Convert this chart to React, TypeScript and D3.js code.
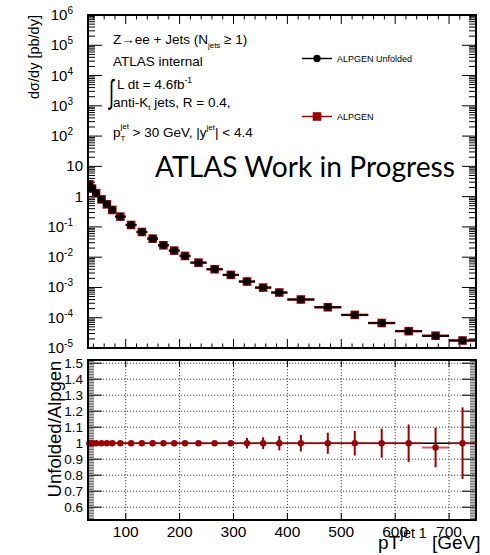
import React from "react";
import * as d3 from "d3";

// bin edges in leading jet pT [GeV]
const binEdges = [30, 35, 40, 50, 60, 70, 80, 100, 120, 140, 160, 180, 200, 220, 250, 280, 310, 340, 370, 400, 450, 500, 550, 600, 650, 700, 750];

// d sigma / dy [pb/dy]
const alpgenValues = [2.55, 1.85, 1.3, 0.81, 0.557, 0.364, 0.219, 0.116, 0.068, 0.041, 0.0247, 0.0165, 0.011, 0.0066, 0.004, 0.0026, 0.00157, 0.00099, 0.00068, 0.0004, 0.000222, 0.000124, 0.000067, 0.000036, 0.0000255, 0.0000177];
const unfoldedValues = [2.55, 1.85, 1.3, 0.81, 0.557, 0.364, 0.219, 0.116, 0.068, 0.041, 0.0247, 0.0165, 0.011, 0.0066, 0.004, 0.0026, 0.00157, 0.00099, 0.00068, 0.0004, 0.000222, 0.000124, 0.000067, 0.000036, 0.0000248, 0.0000177];

// Unfolded / Alpgen
const ratioValues = [1, 1, 1, 1, 1, 1, 1, 1, 1, 1, 1, 1, 1, 1, 1, 1, 1, 1, 1, 1, 1, 1, 1, 1, 0.973, 1];
const ratioErrors = [0.003, 0.003, 0.003, 0.003, 0.003, 0.004, 0.004, 0.005, 0.005, 0.006, 0.006, 0.007, 0.008, 0.009, 0.011, 0.015, 0.033, 0.037, 0.045, 0.052, 0.066, 0.077, 0.091, 0.117, 0.124, 0.224];

const xTicks = [100, 200, 300, 400, 500, 600, 700];
const ratioTicks = [0.6, 0.7, 0.8, 0.9, 1, 1.1, 1.2, 1.3, 1.4, 1.5];
const decades = [-5, -4, -3, -2, -1, 0, 1, 2, 3, 4, 5, 6];

const W = 490, H = 555;
const L = 88, R = 476;
const topT = 15, topB = 348;
const botT = 360, botB = 520;
const red = "#9c0000";
const font = "'Liberation Sans', Arial, sans-serif";

function decadeLabel(p: number) {
  if (p === 0) return <tspan>1</tspan>;
  if (p === 1) return <tspan>10</tspan>;
  return (
    <>
      <tspan>10</tspan>
      <tspan dy={-6} fontSize={10}>{p}</tspan>
    </>
  );
}

export default function App() {
  const x = d3.scaleLinear().domain([30, 750]).range([L, R]);
  const yTop = d3.scaleLog().domain([1e-5, 1e6]).range([topB, topT]);
  const yRat = d3.scaleLinear().domain([0.52, 1.52]).range([botB, botT]);

  const bins = alpgenValues.map((v, i) => ({
    lo: binEdges[i],
    hi: binEdges[i + 1],
    c: (binEdges[i] + binEdges[i + 1]) / 2,
    alp: v,
    unf: unfoldedValues[i],
    r: ratioValues[i],
    e: ratioErrors[i],
  }));

  const minorX = d3.range(40, 750, 20).filter(v => v % 100 !== 0);
  const logMinor: number[] = [];
  decades.slice(0, -1).forEach(p => {
    for (let k = 2; k <= 9; k++) logMinor.push(k * Math.pow(10, p));
  });
  const ratMinor = d3.range(0.52, 1.52, 0.01).map(v => +v.toFixed(2)).filter(v => Math.abs(v * 10 - Math.round(v * 10)) > 1e-6);

  return (
    <svg width={W} height={H} style={{ position: "absolute", left: 0, top: 0, background: "#fff" }} fontFamily={font}>
      <defs>
        <clipPath id="topclip"><rect x={0} y={0} width={W} height={353} /></clipPath>
        <clipPath id="topplot"><rect x={L} y={topT} width={R - L} height={topB - topT} /></clipPath>
      </defs>

      {/* ---------- top pad ---------- */}
      <g clipPath="url(#topclip)">
        {/* ticks */}
        <g stroke="#000" strokeWidth={1}>
          {decades.map(p => {
            const yy = yTop(Math.pow(10, p));
            return (
              <g key={"d" + p}>
                <line x1={L} x2={L + 14} y1={yy} y2={yy} />
                <line x1={R - 14} x2={R} y1={yy} y2={yy} />
              </g>
            );
          })}
          {logMinor.map((v, i) => {
            const yy = yTop(v);
            return (
              <g key={"m" + i}>
                <line x1={L} x2={L + 7} y1={yy} y2={yy} />
                <line x1={R - 7} x2={R} y1={yy} y2={yy} />
              </g>
            );
          })}
          {xTicks.map(v => (
            <g key={"xt" + v}>
              <line x1={x(v)} x2={x(v)} y1={topB} y2={topB - 9} />
              <line x1={x(v)} x2={x(v)} y1={topT} y2={topT + 9} />
            </g>
          ))}
          {minorX.map(v => (
            <g key={"xm" + v}>
              <line x1={x(v)} x2={x(v)} y1={topB} y2={topB - 4.5} />
              <line x1={x(v)} x2={x(v)} y1={topT} y2={topT + 4.5} />
            </g>
          ))}
        </g>

        {/* y tick labels */}
        <g fontSize={15} textAnchor="end">
          {decades.map(p => (
            <text key={"yl" + p} x={p === 0 || p === 1 ? 83 : 73} y={yTop(Math.pow(10, p)) + 5}>
              {decadeLabel(p)}
            </text>
          ))}
        </g>

        {/* data */}
        <g clipPath="url(#topplot)">
          {bins.map((b, i) => (
            <g key={"a" + i}>
              <line x1={x(b.lo)} x2={x(b.hi)} y1={yTop(b.alp)} y2={yTop(b.alp)} stroke={red} strokeWidth={2.4} />
              <rect x={x(b.c) - 4.3} y={yTop(b.alp) - 4.3} width={8.6} height={8.6} fill={red} />
            </g>
          ))}
          {bins.map((b, i) => (
            <g key={"u" + i}>
              <line x1={x(b.lo)} x2={x(b.hi)} y1={yTop(b.unf)} y2={yTop(b.unf)} stroke="#1a0000" strokeWidth={1.8} />
              <circle cx={x(b.c)} cy={yTop(b.unf)} r={3.7} fill="#000" />
            </g>
          ))}
        </g>

        <rect x={L} y={topT} width={R - L} height={topB - topT} fill="none" stroke="#000" strokeWidth={2} />
      </g>

      {/* y title */}
      <text transform="translate(39,57) rotate(-90)" textAnchor="middle" fontSize={14.5}>dσ/dy [pb/dy]</text>

      {/* annotations */}
      <g fontSize={13.5}>
        <text x={113} y={44}>
          Z→ee + Jets (N<tspan dy={4} fontSize={8}>jets</tspan><tspan dy={-4}> ≥ 1)</tspan>
        </text>
        <text x={113} y={66}>ATLAS internal</text>
        <text x={109} y={102} fontSize={30} fontWeight={300} transform="translate(109,95) scale(0.6,1.1) translate(-109,-95)">∫</text>
        <text x={117} y={89}>
          L dt = 4.6fb<tspan dy={-6} fontSize={8.5}>-1</tspan>
        </text>
        <text x={113} y={107}>
          anti-K<tspan dy={3} fontSize={8}>t</tspan><tspan dy={-3}> jets, R = 0.4,</tspan>
        </text>
        <text x={113} y={137}>
          p<tspan dy={4} fontSize={8}>T</tspan><tspan dy={-12} dx={-5} fontSize={8}>jet</tspan><tspan dy={8}> &gt; 30 GeV, |y</tspan><tspan dy={-7} fontSize={8}>jet</tspan><tspan dy={7}>| &lt; 4.4</tspan>
        </text>
      </g>

      <text x={155} y={177} fontSize={29} fontFamily="Lato, 'Open Sans', sans-serif" textLength={300} lengthAdjust="spacingAndGlyphs">ATLAS Work in Progress</text>

      {/* legend */}
      <g fontSize={9}>
        <line x1={302} x2={332} y1={58.5} y2={58.5} stroke="#000" strokeWidth={1.5} />
        <circle cx={317} cy={58.5} r={3.7} fill="#000" />
        <text x={337} y={61.5}>ALPGEN Unfolded</text>
        <line x1={302} x2={332} y1={116.5} y2={116.5} stroke={red} strokeWidth={1.5} />
        <rect x={317 - 4.3} y={116.5 - 4.3} width={8.6} height={8.6} fill={red} />
        <text x={337} y={119.5}>ALPGEN</text>
      </g>

      {/* ---------- ratio pad ---------- */}
      <g>
        {/* grid */}
        <g stroke="#444" strokeWidth={1} strokeDasharray="1.2,1.8">
          {xTicks.map(v => (
            <line key={"gx" + v} x1={x(v)} x2={x(v)} y1={botT} y2={botB} />
          ))}
          {ratioTicks.map(v => (
            <line key={"gy" + v} x1={L} x2={R} y1={yRat(v)} y2={yRat(v)} />
          ))}
        </g>

        {/* ticks */}
        <g stroke="#000" strokeWidth={1}>
          {ratioTicks.map(v => (
            <g key={"rt" + v}>
              <line x1={L} x2={L + 14} y1={yRat(v)} y2={yRat(v)} />
              <line x1={R - 14} x2={R} y1={yRat(v)} y2={yRat(v)} />
            </g>
          ))}
          {ratMinor.map(v => (
            <g key={"rm" + v}>
              <line x1={L} x2={L + 6} y1={yRat(v)} y2={yRat(v)} stroke="#666" />
              <line x1={R - 6} x2={R} y1={yRat(v)} y2={yRat(v)} stroke="#666" />
            </g>
          ))}
          {xTicks.map(v => (
            <g key={"rx" + v}>
              <line x1={x(v)} x2={x(v)} y1={botB} y2={botB - 7} />
              <line x1={x(v)} x2={x(v)} y1={botT} y2={botT + 7} />
            </g>
          ))}
        </g>

        {/* reference line */}
        <line x1={L} x2={R} y1={yRat(1)} y2={yRat(1)} stroke="#000" strokeWidth={1.5} />

        {bins.map((b, i) => (
          <g key={"r" + i}>
            <line x1={x(b.lo)} x2={x(b.hi)} y1={yRat(b.r)} y2={yRat(b.r)} stroke="#b22020" strokeOpacity={0.7} strokeWidth={2} />
            <line x1={x(b.c)} x2={x(b.c)} y1={yRat(b.r - b.e)} y2={yRat(b.r + b.e)} stroke={red} strokeWidth={2} />
            <circle cx={x(b.c)} cy={yRat(b.r)} r={3.2} fill={red} />
          </g>
        ))}

        <rect x={L} y={botT} width={R - L} height={botB - botT} fill="none" stroke="#000" strokeWidth={2} />

        {/* labels */}
        <text transform="translate(61,429) rotate(-90)" textAnchor="middle" fontSize={18.5}>Unfolded/Alpgen</text>
        <g fontSize={13.5} textAnchor="end">
          {ratioTicks.map(v => (
            <text key={"rl" + v} x={83} y={yRat(v) + 5}>{v === 1 ? "1" : v.toFixed(1)}</text>
          ))}
        </g>
        <g fontSize={15.5} textAnchor="middle">
          {xTicks.map(v => (
            <text key={"xl" + v} x={x(v)} y={537}>{v}</text>
          ))}
        </g>
        <text x={378} y={549} fontSize={19}>
          pT<tspan dy={-11} fontSize={14}>jet 1</tspan><tspan dy={11}> [GeV]</tspan>
        </text>
      </g>
    </svg>
  );
}
